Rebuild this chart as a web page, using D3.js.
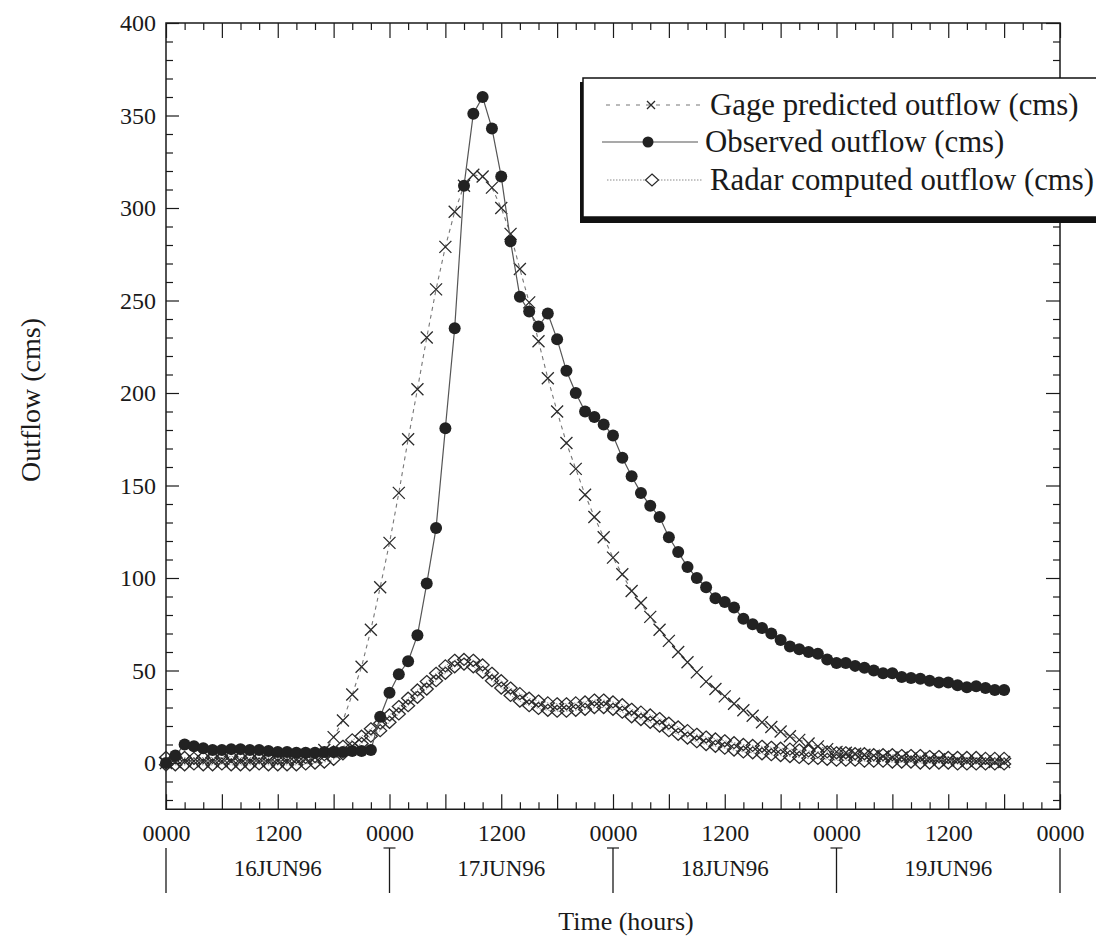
<!DOCTYPE html>
<html>
<head>
<meta charset="utf-8">
<script src="https://cdnjs.cloudflare.com/ajax/libs/d3/7.8.5/d3.min.js"></script>
<style>
  html, body { margin: 0; padding: 0; background: #fff; }
  svg { display: block; }
  text { font-family: "Liberation Serif", "Times New Roman", serif; fill: #1a1a1a; }
</style>
</head>
<body>
<svg id="chart" width="1096" height="944"></svg>
<script>
// Hourly samples starting 16JUN96 0000
const hours = d3.range(0, 91);

// Observed outflow (cms)
const observed = [
  0, 4, 10, 9, 8, 7, 7, 7.5, 7.5, 7, 7, 6.5, 6, 6, 5.5, 5.5, 5.5, 6, 6, 6,
  6.5, 6.5, 7, 25, 38, 48, 55, 69, 97, 127, 181, 235, 312, 351, 360, 343, 317, 282, 252, 244,
  236, 243, 229, 212, 200, 190, 187, 183, 177, 165, 155, 146, 139, 133, 122, 114, 106, 100, 95, 89,
  87, 84, 78, 75, 73, 70, 66.5, 63, 61.5, 60, 59, 56, 54, 54, 52.5, 51.5, 50, 48.5, 48.5, 46.5,
  46, 45.5, 44.5, 43.5, 43.5, 42, 41, 41.5, 40.5, 39.5, 39.5
];

// Gage predicted outflow (cms)
const gagePredicted = [
  0, 0.5, 1, 1, 1, 1, 1, 1, 1, 1, 1, 1, 1, 1, 1.5, 2, 3, 7, 14, 23,
  37, 52, 72, 95, 119, 146, 175, 202, 230, 256, 279, 298, 312, 318, 317, 311, 300, 286, 267, 249,
  228, 208, 190, 173, 159, 145, 133, 122, 111, 102, 93, 86.5, 79, 72, 66, 60, 54.5, 49, 44, 40,
  36, 32, 28.5, 25.5, 22, 19.5, 17, 14.5, 12.5, 10.5, 9, 7.5, 6, 5.5, 5, 4.5, 4, 3.5, 3, 3,
  2.5, 2.5, 2, 2, 1.5, 1.5, 1, 1, 1, 0.5, 0.5
];

// Radar computed outflow (cms), two runs drawn with the same symbol
const radarRunA = [
  -1, -1, -1, -0.5, -1, -1, -0.5, -1, -1, -1, -0.5, -1, -1, -1, -1, -0.5, 0, 0.5, 2, 5,
  8.5, 10.5, 14.5, 17.5, 22, 26.5, 31, 35.5, 40, 44.5, 48.5, 52, 53.5, 52, 49, 44.5, 40.5, 36.5, 33.5, 31,
  29.5, 28.5, 28, 28, 28.5, 29, 30, 30, 29, 27.5, 25, 23.5, 22, 20, 17.5, 15.5, 13.5, 11.5, 10, 9,
  8, 7, 6, 5.5, 5, 4.5, 4, 3.5, 3, 2.5, 2.5, 2, 1.5, 1.5, 1.5, 1, 1, 1, 0.5, 0.5,
  0.5, 0, 0, 0, 0, -0.5, -0.5, -0.5, -0.5, -0.5, -0.5
];
const radarRunB = [
  3, 3, 3, 2.5, 3, 3, 3, 3.5, 3, 3, 3, 3, 2.5, 3, 3, 3, 3.5, 4.5, 6, 9,
  12.5, 14.5, 18.5, 21.5, 26, 30.5, 35, 39.5, 44, 48.5, 52.5, 55.5, 56, 55.5, 53, 48.5, 44.5, 40.5, 37.5, 35,
  33.5, 32.5, 32, 32, 32.5, 33, 34, 34, 33, 31.5, 29, 27.5, 26, 24, 21.5, 19.5, 17.5, 15.5, 14, 13,
  12, 11, 10, 9.5, 9, 8.5, 8, 7.5, 7, 6.5, 6, 6, 5.5, 5.5, 5, 5, 4.5, 4.5, 4.5, 4,
  4, 4, 3.5, 3.5, 3, 3, 3, 3, 2.5, 2.5, 2.5
];

// Axis ticks and labels
const yMajorTicks = [0, 50, 100, 150, 200, 250, 300, 350, 400];
const yMinorTicks = d3.range(-20, 401, 10).filter(v => v % 50 !== 0);
const xLabelTicks = [0, 12, 24, 36, 48, 60, 72, 84, 96];
const xSixHourTicks = [6, 18, 30, 42, 54, 66, 78, 90];
const xMinorTicks = d3.range(2, 96, 2).filter(h => h % 6 !== 0);
const dayBoundaries = [0, 24, 48, 72, 96];
const dayLabels = ["16JUN96", "17JUN96", "18JUN96", "19JUN96"];
const legendLabels = ["Gage predicted outflow (cms)", "Observed outflow (cms)", "Radar computed outflow (cms)"];

const svg = d3.select("#chart");
const plotLeft = 166, plotRight = 1060, plotTop = 23, plotBottom = 809.25;

const x = d3.scaleLinear().domain([0, 96]).range([plotLeft, plotRight]);
const y = d3.scaleLinear().domain([-25, 400]).range([plotBottom, plotTop]);

const ink = "#1a1a1a";

// ---- axes (ticks point into the plot on all four sides) ----
function styleAxis(g) {
  g.select(".domain").remove();
  g.selectAll(".tick line").attr("stroke", ink).attr("stroke-width", 1.2);
  g.selectAll("text").attr("font-size", 24).attr("fill", ink)
    .attr("font-family", '"Liberation Serif", "Times New Roman", serif');
}

// left
svg.append("g").attr("transform", `translate(${plotLeft},0)`)
  .call(d3.axisLeft(y).tickValues(yMajorTicks).tickSize(-13).tickPadding(10).tickFormat(d3.format("d")))
  .call(styleAxis);
svg.append("g").attr("transform", `translate(${plotLeft},0)`)
  .call(d3.axisLeft(y).tickValues(yMinorTicks).tickSize(-7).tickFormat(""))
  .call(styleAxis);
// right
svg.append("g").attr("transform", `translate(${plotRight},0)`)
  .call(d3.axisRight(y).tickValues(yMajorTicks).tickSize(-14).tickFormat(""))
  .call(styleAxis);
svg.append("g").attr("transform", `translate(${plotRight},0)`)
  .call(d3.axisRight(y).tickValues(yMinorTicks).tickSize(-7).tickFormat(""))
  .call(styleAxis);
// bottom
svg.append("g").attr("transform", `translate(0,${plotBottom})`)
  .call(d3.axisBottom(x).tickValues(xLabelTicks).tickSize(-15).tickPadding(15)
    .tickFormat(h => (h % 24 === 0 ? "0000" : "1200")))
  .call(styleAxis);
svg.append("g").attr("transform", `translate(0,${plotBottom})`)
  .call(d3.axisBottom(x).tickValues(xSixHourTicks).tickSize(-15).tickFormat(""))
  .call(styleAxis);
svg.append("g").attr("transform", `translate(0,${plotBottom})`)
  .call(d3.axisBottom(x).tickValues(xMinorTicks).tickSize(-7).tickFormat(""))
  .call(styleAxis);
// top
svg.append("g").attr("transform", `translate(0,${plotTop})`)
  .call(d3.axisTop(x).tickValues(xLabelTicks.concat(xSixHourTicks)).tickSize(-15).tickFormat(""))
  .call(styleAxis);
svg.append("g").attr("transform", `translate(0,${plotTop})`)
  .call(d3.axisTop(x).tickValues(xMinorTicks).tickSize(-7).tickFormat(""))
  .call(styleAxis);

// frame
svg.append("rect")
  .attr("x", plotLeft).attr("y", plotTop)
  .attr("width", plotRight - plotLeft).attr("height", plotBottom - plotTop)
  .attr("fill", "none").attr("stroke", ink).attr("stroke-width", 1.5);

// ---- day brackets under the hour labels ----
const days = svg.append("g");
dayBoundaries.forEach((h, i) => {
  const px = x(h);
  days.append("line").attr("x1", px).attr("x2", px).attr("y1", 848).attr("y2", 893)
    .attr("stroke", ink).attr("stroke-width", 1.3);
  if (i > 0 && i < dayBoundaries.length - 1) {
    days.append("line").attr("x1", px - 6).attr("x2", px + 6).attr("y1", 848).attr("y2", 848)
      .attr("stroke", ink).attr("stroke-width", 1.2);
  }
});
dayLabels.forEach((lab, i) => {
  days.append("text")
    .attr("x", x(dayBoundaries[i] + 12)).attr("y", 868)
    .attr("text-anchor", "middle").attr("dominant-baseline", "central")
    .attr("font-size", 23).text(lab);
});

// axis titles
svg.append("text").attr("x", 626).attr("y", 921)
  .attr("text-anchor", "middle").attr("dominant-baseline", "central")
  .attr("font-size", 26).text("Time (hours)");
svg.append("text")
  .attr("transform", "translate(30,400) rotate(-90)")
  .attr("text-anchor", "middle").attr("dominant-baseline", "central")
  .attr("font-size", 28).text("Outflow (cms)");

// ---- series ----
const line = d3.line().x((d, i) => x(hours[i])).y(d => y(d));

const crossPath = "M-6,-6L6,6M-6,6L6,-6";
const diamondPath = "M0,-6L6.5,0L0,6L-6.5,0Z";

function drawRadar(values) {
  const g = svg.append("g");
  g.append("path").datum(values).attr("d", line)
    .attr("fill", "none").attr("stroke", "#8a8a8a").attr("stroke-width", 1)
    .attr("stroke-dasharray", "1.5,1.5");
  g.selectAll("path.m").data(values).join("path").attr("class", "m")
    .attr("transform", (d, i) => `translate(${x(hours[i])},${y(d)})`)
    .attr("d", diamondPath)
    .attr("fill", "none").attr("stroke", "#2a2a2a").attr("stroke-width", 1.3);
}
drawRadar(radarRunA);
drawRadar(radarRunB);

// gage predicted
const gG = svg.append("g");
gG.append("path").datum(gagePredicted).attr("d", line)
  .attr("fill", "none").attr("stroke", "#777").attr("stroke-width", 1.1)
  .attr("stroke-dasharray", "4,4");
gG.selectAll("path.m").data(gagePredicted).join("path").attr("class", "m")
  .attr("transform", (d, i) => `translate(${x(hours[i])},${y(d)})`)
  .attr("d", crossPath)
  .attr("fill", "none").attr("stroke", "#2a2a2a").attr("stroke-width", 1.3);

// observed
const gO = svg.append("g");
gO.append("path").datum(observed).attr("d", line)
  .attr("fill", "none").attr("stroke", "#555").attr("stroke-width", 1.2);
gO.selectAll("circle").data(observed).join("circle")
  .attr("cx", (d, i) => x(hours[i])).attr("cy", d => y(d)).attr("r", 6)
  .attr("fill", "#222");

// ---- legend ----
const lg = svg.append("g");
lg.append("rect").attr("x", 580).attr("y", 82).attr("width", 600).attr("height", 141).attr("fill", "#111");
lg.append("rect").attr("x", 583).attr("y", 78).attr("width", 600).attr("height", 139)
  .attr("fill", "#fff").attr("stroke", "#111").attr("stroke-width", 1.5);

const rows = [
  { y: 105, x0: 606, x1: 702, mx: 651, tx: 710, kind: "gage" },
  { y: 142, x0: 602, x1: 698, mx: 648, tx: 705, kind: "obs" },
  { y: 180, x0: 607, x1: 703, mx: 652, tx: 710, kind: "radar" }
];
rows.forEach((r, i) => {
  const ln = lg.append("line").attr("x1", r.x0).attr("x2", r.x1).attr("y1", r.y).attr("y2", r.y);
  if (r.kind === "gage") {
    ln.attr("stroke", "#777").attr("stroke-width", 1.1).attr("stroke-dasharray", "4,6");
    lg.append("path").attr("transform", `translate(${r.mx},${r.y})`).attr("d", "M-4,-4L4,4M-4,4L4,-4")
      .attr("stroke", "#2a2a2a").attr("stroke-width", 1.3);
  } else if (r.kind === "obs") {
    ln.attr("stroke", "#555").attr("stroke-width", 1.2);
    lg.append("circle").attr("cx", r.mx).attr("cy", r.y).attr("r", 5.5).attr("fill", "#222");
  } else {
    ln.attr("stroke", "#8a8a8a").attr("stroke-width", 1).attr("stroke-dasharray", "1.5,1.5");
    lg.append("path").attr("transform", `translate(${r.mx},${r.y})`).attr("d", diamondPath)
      .attr("fill", "#fff").attr("stroke", "#2a2a2a").attr("stroke-width", 1.2);
  }
  lg.append("text").attr("x", r.tx).attr("y", r.y)
    .attr("dominant-baseline", "central").attr("font-size", 30.8).text(legendLabels[i]);
});
</script>
</body>
</html>
